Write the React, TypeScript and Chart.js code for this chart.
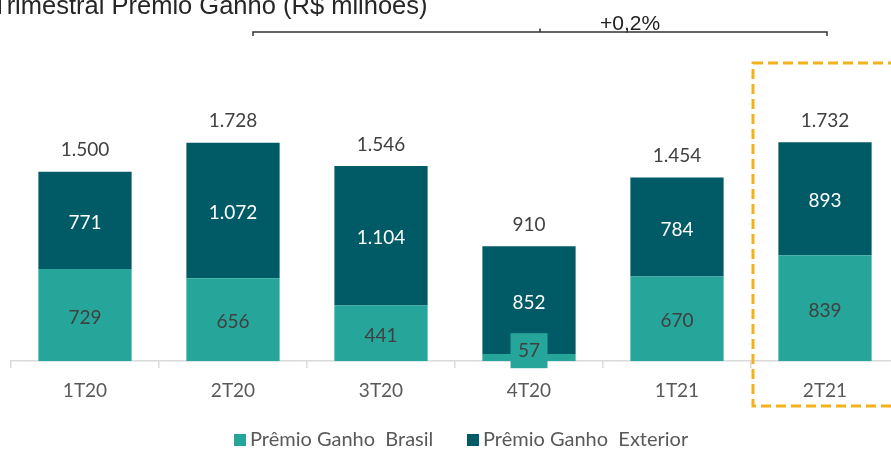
import React, { useEffect, useRef } from "react";
import { Chart, registerables } from "chart.js";

Chart.register(...registerables);

const categories = ["1T20", "2T20", "3T20", "4T20", "1T21", "2T21"];
const brasil = [729, 656, 441, 57, 670, 839];
const exterior = [771, 1072, 1104, 852, 784, 893];
const totals = [1500, 1728, 1546, 910, 1454, 1732];
const seriesNames = ["Prêmio Ganho  Brasil", "Prêmio Ganho  Exterior"];
const chartTitle = "Trimestral Prêmio Ganho (R$ milhões)";
const growthLabel = "+0,2%";
const Y_MAX = 2858;

const BRASIL_COLOR = "#26A69A";
const EXTERIOR_COLOR = "#005B66";
const FONT = "Lato";

const fmt = (v: number) => String(v).replace(/\B(?=(\d{3})+(?!\d))/g, ".");

const overlayPlugin = {
  id: "overlay",
  afterDatasetsDraw(chart: any) {
    const ctx = chart.ctx as CanvasRenderingContext2D;
    const m0 = chart.getDatasetMeta(0);
    const m1 = chart.getDatasetMeta(1);
    ctx.save();
    ctx.textAlign = "center";
    ctx.textBaseline = "middle";
    ctx.font = `19px ${FONT}`;
    const dy = 2.5;

    // segment labels
    m0.data.forEach((el: any, i: number) => {
      const v = chart.data.datasets[0].data[i];
      const h = el.base - el.y;
      let cy = (el.y + el.base) / 2 + dy;
      if (h < 20) {
        cy = el.base - 10;
        ctx.fillStyle = BRASIL_COLOR;
        ctx.fillRect(el.x - 18.5, el.base - 28, 37, 35);
      }
      ctx.fillStyle = "#404040";
      ctx.fillText(fmt(v), el.x, cy);
    });
    m1.data.forEach((el: any, i: number) => {
      const v = chart.data.datasets[1].data[i];
      ctx.fillStyle = "#FFFFFF";
      ctx.fillText(fmt(v), el.x, (el.y + el.base) / 2 + dy);
      ctx.fillStyle = "#404040";
      ctx.fillText(fmt(totals[i]), el.x, el.y - 24 + dy);
    });

    // title (clipped at top)
    ctx.textAlign = "left";
    ctx.textBaseline = "alphabetic";
    ctx.fillStyle = "#262626";
    ctx.font = "25.5px 'Liberation Sans'";
    ctx.fillText(chartTitle, -8, 14);

    // bracket
    const xL = m1.data[1].x + 20;
    const xR = m1.data[5].x + 2;
    const xM = (xL + xR) / 2;
    ctx.strokeStyle = "#333333";
    ctx.lineWidth = 1.5;
    ctx.beginPath();
    ctx.moveTo(xL, 36);
    ctx.lineTo(xL, 32);
    ctx.lineTo(xR, 32);
    ctx.lineTo(xR, 36);
    ctx.moveTo(xM, 32);
    ctx.lineTo(xM, 28.5);
    ctx.stroke();
    ctx.font = "21px 'Liberation Sans'";
    ctx.textAlign = "center";
    ctx.fillStyle = "#222222";
    ctx.fillText(growthLabel, 630, 30);

    // dashed highlight box
    const bx = m1.data[5].x - 72;
    ctx.strokeStyle = "#F3B21C";
    ctx.lineWidth = 3;
    ctx.setLineDash([10, 5]);
    ctx.strokeRect(bx, 63, 160, 343);
    ctx.setLineDash([]);

    // legend
    ctx.font = `20px ${FONT}`;
    ctx.textAlign = "left";
    ctx.textBaseline = "middle";
    const colors = [BRASIL_COLOR, EXTERIOR_COLOR];
    const starts = [234, 467];
    seriesNames.forEach((name, i) => {
      ctx.fillStyle = colors[i];
      ctx.fillRect(starts[i], 434, 12, 12);
      ctx.fillStyle = "#595959";
      ctx.fillText(name, starts[i] + 16, 440);
    });
    ctx.restore();
  },
};

export default function App() {
  const ref = useRef<HTMLCanvasElement | null>(null);
  useEffect(() => {
    if (!ref.current) return;
    const chart = new Chart(ref.current, {
      type: "bar",
      data: {
        labels: categories,
        datasets: [
          {
            label: seriesNames[0],
            data: brasil,
            backgroundColor: BRASIL_COLOR,
            borderWidth: 0,
            barPercentage: 0.63,
            categoryPercentage: 1,
          },
          {
            label: seriesNames[1],
            data: exterior,
            backgroundColor: EXTERIOR_COLOR,
            borderWidth: 0,
            barPercentage: 0.63,
            categoryPercentage: 1,
          },
        ],
      },
      options: {
        animation: false,
        responsive: true,
        maintainAspectRatio: false,
        layout: { padding: { left: 11, right: 11, top: 0, bottom: 37 } },
        plugins: {
          legend: { display: false },
          tooltip: { enabled: false },
          title: { display: false },
        },
        scales: {
          x: {
            stacked: true,
            grid: {
              display: true,
              drawOnChartArea: false,
              drawTicks: true,
              tickLength: 7,
              color: "#D9D9D9",
              lineWidth: 1.5,
              offset: true,
            },
            border: { display: true, color: "#D9D9D9", width: 1.5 },
            ticks: { color: "#595959", font: { family: FONT, size: 19 }, padding: 11 },
          },
          y: { stacked: true, display: false, min: 0, max: Y_MAX },
        },
      },
      plugins: [overlayPlugin],
    });
    return () => chart.destroy();
  }, []);
  return (
    <div style={{ position: "fixed", left: 0, top: 0, width: 910, height: 450 }}>
      <canvas ref={ref} />
    </div>
  );
}
